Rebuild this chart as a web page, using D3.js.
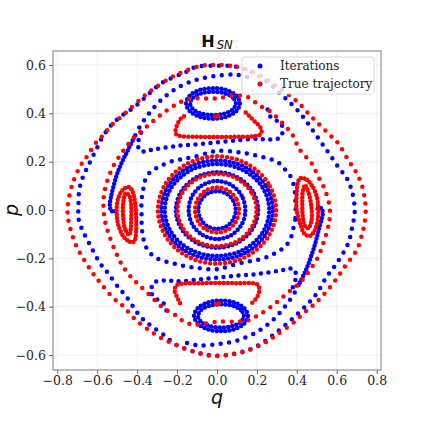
<!DOCTYPE html>
<html><head><meta charset="utf-8">
<script src="https://cdn.jsdelivr.net/npm/d3@7"></script>
<style>body{margin:0;background:#fff}</style>
</head><body><svg id="c" width="423" height="423"></svg>
<script>
// ---------- data (q, p) ----------
const xTicks = [-0.8,-0.6,-0.4,-0.2,0,0.2,0.4,0.6,0.8];
const yTicks = [-0.6,-0.4,-0.2,0,0.2,0.4,0.6];
const seriesNames = ["Iterations","True trajectory"];

// red (true trajectory) orbits
const redOuter = [[0,0.6],[0.1,0.593],[0.2,0.563],[0.32,0.5],[0.4,0.45],[0.457,0.4],[0.51,0.355],[0.566,0.31],[0.607,0.276],[0.657,0.207],[0.7,0.152],[0.728,0.096],[0.741,0.04],[0.745,0],[0.74,-0.05],[0.728,-0.096],[0.7,-0.165],[0.64,-0.234],[0.582,-0.303],[0.524,-0.359],[0.474,-0.4],[0.432,-0.427],[0.39,-0.462],[0.3,-0.515],[0.249,-0.545],[0.149,-0.583],[0.05,-0.6],[-0.035,-0.603],[-0.102,-0.59],[-0.202,-0.559],[-0.26,-0.538],[-0.319,-0.51],[-0.406,-0.455],[-0.477,-0.393],[-0.519,-0.365],[-0.589,-0.297],[-0.622,-0.262],[-0.67,-0.2],[-0.703,-0.152],[-0.733,-0.083],[-0.745,-0.041],[-0.748,0.014],[-0.723,0.11],[-0.686,0.18],[-0.656,0.216],[-0.602,0.283],[-0.569,0.31],[-0.536,0.345],[-0.447,0.41],[-0.369,0.469],[-0.322,0.499],[-0.232,0.547],[-0.169,0.572],[-0.075,0.597]];
const redSecond = [[0.566,0],[0.557,-0.069],[0.532,-0.138],[0.507,-0.193],[0.466,-0.248],[0.416,-0.3],[0.35,-0.345],[0.28,-0.395],[0.21,-0.434],[0.16,-0.455],[0.1,-0.462],[0,-0.462],[-0.1,-0.475],[-0.16,-0.465],[-0.21,-0.434],[-0.27,-0.405],[-0.352,-0.34],[-0.416,-0.29],[-0.466,-0.24],[-0.507,-0.175],[-0.544,-0.096],[-0.562,-0.041],[-0.569,0.02],[-0.565,0.07],[-0.55,0.12],[-0.52,0.18],[-0.47,0.245],[-0.416,0.3],[-0.352,0.345],[-0.28,0.395],[-0.21,0.434],[-0.16,0.455],[-0.1,0.462],[0,0.462],[0.1,0.475],[0.16,0.465],[0.21,0.434],[0.27,0.405],[0.352,0.338],[0.374,0.317],[0.416,0.248],[0.474,0.193],[0.507,0.138],[0.541,0.083]];
const redTopIsland = [[-0.165,0.388],[-0.185,0.375],[-0.2,0.352],[-0.208,0.325],[-0.2,0.31],[-0.1,0.303],[0,0.302],[0.1,0.303],[0.18,0.305],[0.215,0.312],[0.224,0.33],[0.207,0.352],[0.182,0.372],[0.157,0.393],[0.13,0.414]];
const redBottomIsland = [[-0.185,-0.386],[-0.2,-0.36],[-0.212,-0.335],[-0.205,-0.312],[-0.18,-0.305],[-0.1,-0.303],[0,-0.302],[0.1,-0.303],[0.2,-0.307],[0.212,-0.325],[0.207,-0.35],[0.19,-0.372],[0.174,-0.386]];
const redIslandDots = [[-0.01,0.386],[0.005,0.39],[0.01,-0.386],[-0.005,-0.39]];
const redRightIslandOuter = [[0.42,0.133],[0.45,0.125],[0.474,0.103],[0.5,0.055],[0.507,0],[0.505,-0.04],[0.49,-0.083],[0.466,-0.107],[0.44,-0.1],[0.416,-0.055],[0.399,0],[0.399,0.069],[0.405,0.115]];
const redRightIslandInner = [[0.44,0.103],[0.455,0.08],[0.47,0.03],[0.474,-0.041],[0.457,-0.076],[0.44,-0.065],[0.43,-0.03],[0.427,0.03],[0.43,0.08]];
const redLeftIslandOuter = [[-0.42,-0.133],[-0.45,-0.125],[-0.474,-0.103],[-0.495,-0.06],[-0.502,-0.02],[-0.5,0.03],[-0.49,0.06],[-0.47,0.085],[-0.44,0.095],[-0.425,0.08],[-0.41,0.03],[-0.405,-0.03],[-0.405,-0.09],[-0.41,-0.12]];
const redLeftIslandInner = [[-0.44,-0.103],[-0.46,-0.08],[-0.47,-0.03],[-0.47,0.03],[-0.457,0.07],[-0.44,0.06],[-0.43,0.02],[-0.43,-0.04],[-0.432,-0.08]];
const redRing1 = [[0.11,0],[0.095,0.047],[0.055,0.081],[0,0.093],[-0.055,0.081],[-0.095,0.047],[-0.11,0],[-0.095,-0.047],[-0.055,-0.081],[0,-0.093],[0.055,-0.081],[0.095,-0.047]];
const redRing2 = [[0.198,0],[0.171,0.075],[0.099,0.13],[0,0.15],[-0.099,0.13],[-0.171,0.075],[-0.198,0],[-0.171,-0.075],[-0.099,-0.13],[0,-0.15],[0.099,-0.13],[0.171,-0.075]];
const redRing3 = [[0.296,0],[0.256,0.111],[0.148,0.192],[0,0.222],[-0.148,0.192],[-0.256,0.111],[-0.296,0],[-0.256,-0.111],[-0.148,-0.192],[0,-0.222],[0.148,-0.192],[0.256,-0.111]];

// blue (iterations) orbits
const blueOuter = [[0,0.597],[0.095,0.593],[0.2,0.56],[0.32,0.48],[0.424,0.393],[0.49,0.317],[0.549,0.248],[0.607,0.179],[0.65,0.131],[0.674,0.083],[0.69,0],[0.675,-0.08],[0.657,-0.138],[0.6,-0.22],[0.549,-0.276],[0.5,-0.345],[0.449,-0.393],[0.35,-0.47],[0.195,-0.566],[0.095,-0.593],[0,-0.603],[-0.102,-0.59],[-0.21,-0.555],[-0.26,-0.521],[-0.336,-0.476],[-0.386,-0.439],[-0.452,-0.361],[-0.494,-0.32],[-0.552,-0.255],[-0.586,-0.22],[-0.636,-0.145],[-0.678,-0.076],[-0.694,-0.034],[-0.694,0.014],[-0.69,0.083],[-0.674,0.131],[-0.652,0.172],[-0.627,0.214],[-0.602,0.255],[-0.577,0.297],[-0.536,0.345],[-0.494,0.379],[-0.402,0.434],[-0.28,0.524],[-0.164,0.568],[-0.102,0.593]];
const blueSepLeftSparse = [[0.15,0.55],[0.1,0.56],[0,0.555],[-0.1,0.54],[-0.2,0.505],[-0.28,0.455],[-0.34,0.4],[-0.39,0.34],[-0.415,0.3]];
const blueSepLeftDense = [[-0.415,0.3],[-0.445,0.25],[-0.475,0.2],[-0.5,0.15],[-0.518,0.1],[-0.532,0.05],[-0.537,0.02],[-0.53,-0.003],[-0.515,-0.007],[-0.503,0]];
const blueSepRightSparse = [[-0.15,-0.55],[-0.1,-0.56],[0,-0.555],[0.1,-0.54],[0.2,-0.505],[0.28,-0.455],[0.34,-0.4],[0.39,-0.34],[0.415,-0.3]];
const blueSepRightDense = [[0.415,-0.3],[0.445,-0.25],[0.472,-0.19],[0.495,-0.13],[0.51,-0.08],[0.525,-0.035],[0.53,-0.01],[0.522,0.008],[0.507,0.008],[0.5,0]];
const blueUpperChain = [[-0.38,0.32],[-0.395,0.28],[-0.39,0.25],[-0.37,0.242],[-0.335,0.248],[-0.285,0.255],[-0.2,0.265],[-0.1,0.272],[0,0.28],[0.1,0.288],[0.182,0.295],[0.232,0.293],[0.274,0.292],[0.315,0.3],[0.33,0.34],[0.307,0.365],[0.265,0.389],[0.25,0.43]];
const blueLowerChain = [[0.38,-0.32],[0.395,-0.28],[0.39,-0.25],[0.37,-0.242],[0.335,-0.248],[0.285,-0.255],[0.2,-0.265],[0.1,-0.272],[0,-0.28],[-0.1,-0.288],[-0.182,-0.295],[-0.232,-0.293],[-0.274,-0.292],[-0.315,-0.3],[-0.33,-0.34],[-0.307,-0.365],[-0.265,-0.389],[-0.25,-0.43]];
const blueMidRing = [[0.392,0.05],[0.392,-0.04],[0.38,-0.083],[0.366,-0.124],[0.34,-0.152],[0.307,-0.172],[0.274,-0.186],[0.232,-0.2],[0.18,-0.21],[0.13,-0.217],[0.05,-0.235],[0,-0.245],[-0.1,-0.24],[-0.2,-0.225],[-0.3,-0.2],[-0.344,-0.17],[-0.365,-0.13],[-0.376,-0.08],[-0.378,-0.02],[-0.378,0.04],[-0.37,0.083],[-0.36,0.124],[-0.34,0.152],[-0.307,0.172],[-0.274,0.186],[-0.232,0.2],[-0.18,0.21],[-0.13,0.217],[-0.05,0.235],[0,0.245],[0.1,0.24],[0.2,0.225],[0.3,0.2],[0.344,0.165],[0.369,0.138],[0.385,0.1]];
const blueTopIslandOuter = [[0.115,0.441],[0.097,0.473],[0.048,0.496],[-0.02,0.504],[-0.088,0.496],[-0.137,0.473],[-0.155,0.441],[-0.137,0.41],[-0.088,0.386],[-0.02,0.378],[0.048,0.386],[0.097,0.41]];
const blueTopIslandInner = [[0.095,0.441],[0.08,0.465],[0.038,0.483],[-0.02,0.489],[-0.078,0.483],[-0.12,0.465],[-0.135,0.441],[-0.12,0.417],[-0.078,0.399],[-0.02,0.393],[0.038,0.399],[0.08,0.417]];
const blueBottomIslandOuter = [[0.155,-0.438],[0.137,-0.407],[0.088,-0.383],[0.02,-0.375],[-0.048,-0.383],[-0.097,-0.407],[-0.115,-0.438],[-0.097,-0.469],[-0.048,-0.493],[0.02,-0.501],[0.088,-0.493],[0.137,-0.469]];
const blueBottomIslandInner = [[0.135,-0.438],[0.12,-0.414],[0.078,-0.396],[0.02,-0.39],[-0.038,-0.396],[-0.08,-0.414],[-0.095,-0.438],[-0.08,-0.462],[-0.038,-0.48],[0.02,-0.486],[0.078,-0.48],[0.12,-0.462]];
const blueRing1 = [[0.094,0],[0.081,0.039],[0.047,0.068],[0,0.078],[-0.047,0.068],[-0.081,0.039],[-0.094,0],[-0.081,-0.039],[-0.047,-0.068],[0,-0.078],[0.047,-0.068],[0.081,-0.039]];
const blueRing2 = [[0.142,0],[0.123,0.06],[0.071,0.104],[0,0.12],[-0.071,0.104],[-0.123,0.06],[-0.142,0],[-0.123,-0.06],[-0.071,-0.104],[0,-0.12],[0.071,-0.104],[0.123,-0.06]];
const blueRing3 = [[0.206,0],[0.178,0.078],[0.103,0.135],[0,0.156],[-0.103,0.135],[-0.178,0.078],[-0.206,0],[-0.178,-0.078],[-0.103,-0.135],[0,-0.156],[0.103,-0.135],[0.178,-0.078]];
const blueRing4 = [[0.262,0],[0.227,0.095],[0.131,0.165],[0,0.19],[-0.131,0.165],[-0.227,0.095],[-0.262,0],[-0.227,-0.095],[-0.131,-0.165],[0,-0.19],[0.131,-0.165],[0.227,-0.095]];
const blueRing5 = [[0.28,0],[0.242,0.103],[0.14,0.178],[0,0.205],[-0.14,0.178],[-0.242,0.103],[-0.28,0],[-0.242,-0.103],[-0.14,-0.178],[0,-0.205],[0.14,-0.178],[0.242,-0.103]];

// ---------- drawing ----------
const svg = d3.select('#c');
const x = d3.scaleLinear().domain([-0.8215, 0.8215]).range([53, 381]);
const y = d3.scaleLinear().domain([-0.662, 0.658]).range([370, 51]);
const BLUE = '#0000ff', RED = '#ff0000';
const serif = "'DejaVu Serif', serif";

// grid
const grid = svg.append('g');
grid.selectAll('line.gx').data(xTicks).join('line')
  .attr('x1', d => x(d)).attr('x2', d => x(d)).attr('y1', 51).attr('y2', 370)
  .attr('stroke', '#ebebeb').attr('stroke-width', 0.8);
grid.selectAll('line.gy').data(yTicks).join('line')
  .attr('y1', d => y(d)).attr('y2', d => y(d)).attr('x1', 53).attr('x2', 381)
  .attr('stroke', '#ebebeb').attr('stroke-width', 0.8);

// orbit drawing helper: dotted chain through the read points
const DOT = 4.5;
function chain(data, color, gap, closed) {
  const line = d3.line().x(d => x(d[0])).y(d => y(d[1]))
    .curve(closed ? d3.curveCatmullRomClosed.alpha(0.5) : d3.curveCatmullRom.alpha(0.5));
  svg.append('path').attr('d', line(data)).attr('fill', 'none')
    .attr('stroke', color).attr('stroke-width', DOT)
    .attr('stroke-linecap', 'round').attr('stroke-dasharray', `0 ${gap}`);
}

const blueSet = [
  [blueOuter, 8.5, true], [blueSepLeftSparse, 8.5, false], [blueSepLeftDense, 3.6, false],
  [blueSepRightSparse, 8.5, false], [blueSepRightDense, 3.6, false],
  [blueUpperChain, 7.5, false], [blueLowerChain, 7.5, false], [blueMidRing, 8.5, true],
  [blueTopIslandOuter, 4.2, true], [blueTopIslandInner, 4.2, true],
  [blueBottomIslandOuter, 4.2, true], [blueBottomIslandInner, 4.2, true],
  [blueRing1, 4.2, true], [blueRing2, 4.2, true], [blueRing3, 4.2, true],
  [blueRing4, 4.4, true], [blueRing5, 4.4, true]
];
const redSet = [
  [redOuter, 8.5, true], [redSecond, 8.5, true],
  [redTopIsland, 4.2, false], [redBottomIsland, 4.2, false],
  [redRightIslandOuter, 3.6, true], [redRightIslandInner, 3.6, true],
  [redLeftIslandOuter, 3.6, true], [redLeftIslandInner, 3.6, true],
  [redRing1, 4.6, true], [redRing2, 4.8, true], [redRing3, 5, true]
];
blueSet.forEach(s => chain(s[0], BLUE, s[1], s[2]));
redSet.forEach(s => chain(s[0], RED, s[1], s[2]));
svg.append('g').selectAll('circle').data(redIslandDots).join('circle')
  .attr('cx', d => x(d[0])).attr('cy', d => y(d[1])).attr('r', DOT / 2).attr('fill', RED);

// frame
svg.append('rect').attr('x', 53).attr('y', 51).attr('width', 328).attr('height', 319)
  .attr('fill', 'none').attr('stroke', '#9a9a9a').attr('stroke-width', 1.3);

// axes
const fmt = d3.format('.1f');
const gx = svg.append('g').attr('transform', 'translate(0,370)')
  .call(d3.axisBottom(x).tickValues(xTicks).tickFormat(fmt).tickSize(4).tickPadding(2));
const gy = svg.append('g').attr('transform', 'translate(53,0)')
  .call(d3.axisLeft(y).tickValues(yTicks).tickFormat(fmt).tickSize(4).tickPadding(3));
[gx, gy].forEach(g => {
  g.select('.domain').remove();
  g.selectAll('line').attr('stroke', '#666');
  g.selectAll('text').attr('font-family', serif).attr('font-size', 12.5).attr('fill', '#222');
});

// axis labels
svg.append('text').attr('x', 217).attr('y', 404).attr('text-anchor', 'middle')
  .attr('font-family', "'DejaVu Sans', sans-serif").attr('font-style', 'italic')
  .attr('font-size', 19).attr('fill', '#111').text('q');
svg.append('text').attr('transform', 'translate(18,210) rotate(-90)').attr('text-anchor', 'middle')
  .attr('font-family', "'DejaVu Sans', sans-serif").attr('font-style', 'italic')
  .attr('font-size', 19).attr('fill', '#111').text('p');

// title
const t = svg.append('text').attr('x', 217).attr('y', 47).attr('text-anchor', 'middle')
  .attr('font-family', "'DejaVu Sans', sans-serif").attr('fill', '#111');
t.append('tspan').attr('font-weight', 'bold').attr('font-size', 16).text('H');
t.append('tspan').attr('font-style', 'italic').attr('font-size', 11.5).attr('dx', 2).attr('dy', 2).text('SN');

// legend
const lg = svg.append('g');
lg.append('rect').attr('x', 242).attr('y', 57).attr('width', 132).attr('height', 37).attr('rx', 3)
  .attr('fill', 'white').attr('fill-opacity', 0.8).attr('stroke', '#d0d0d0').attr('stroke-width', 0.8);
seriesNames.forEach((n, i) => {
  lg.append('circle').attr('cx', 260).attr('cy', 66 + i * 18).attr('r', 2.5).attr('fill', i ? RED : BLUE);
  lg.append('text').attr('x', 280).attr('y', 70 + i * 18).attr('font-family', serif)
    .attr('font-size', 12).attr('fill', '#222').text(n);
});
</script></body></html>
